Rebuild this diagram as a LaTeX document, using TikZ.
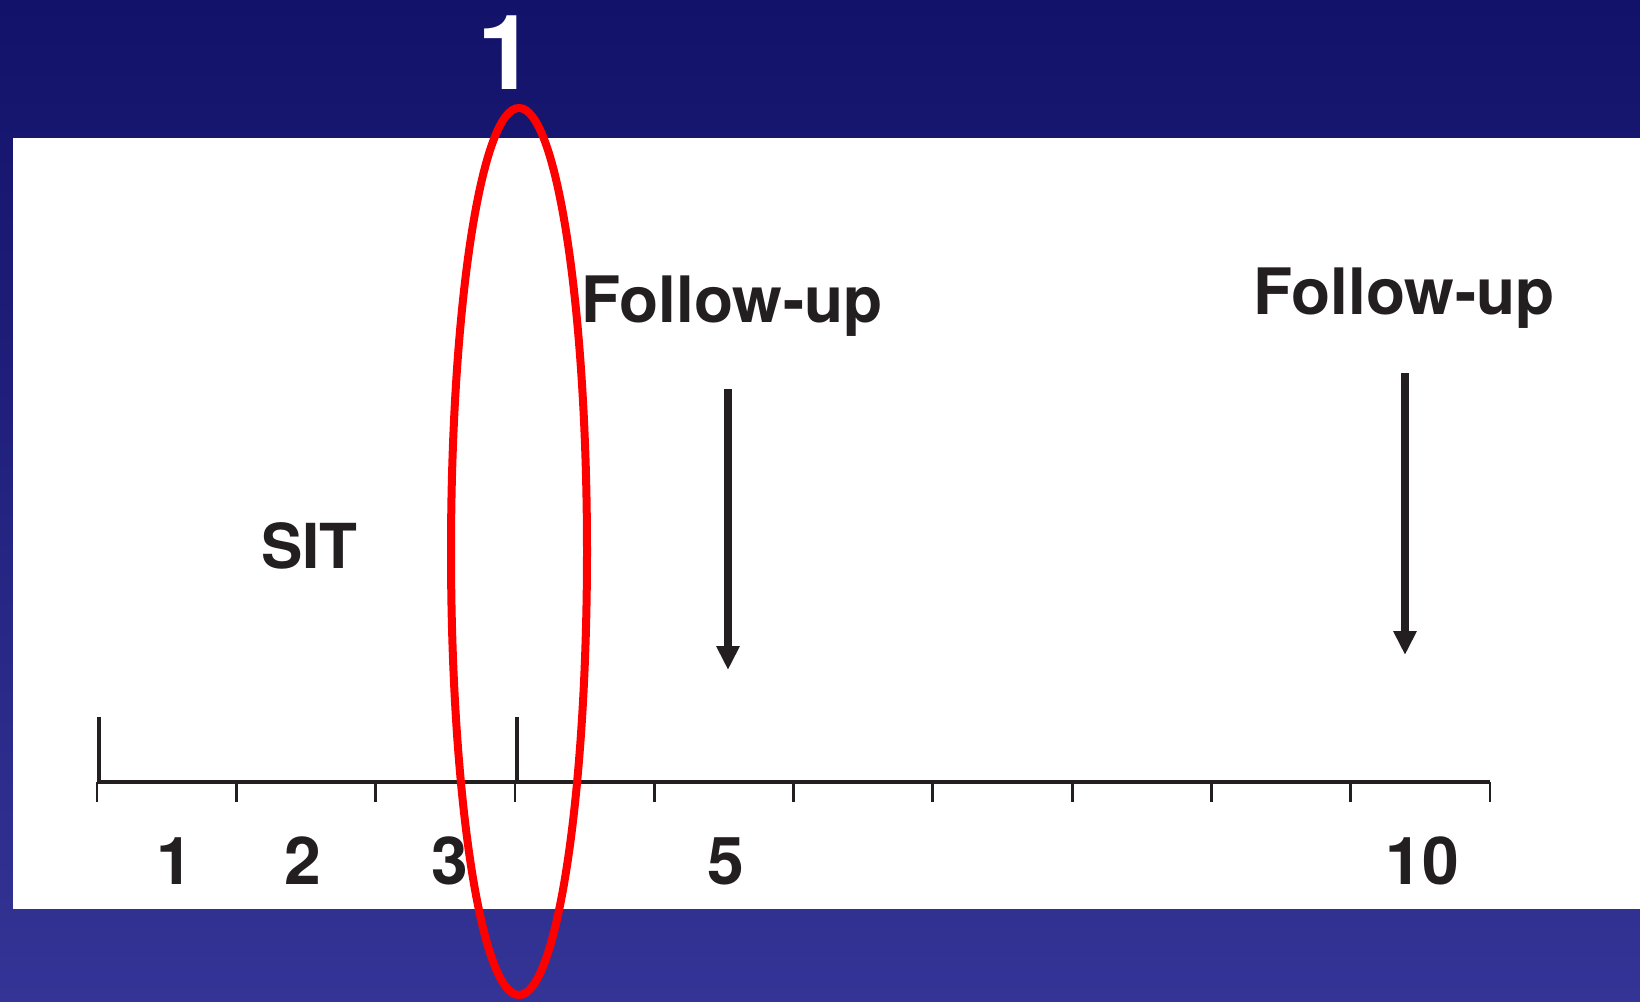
\documentclass[tikz,border=0pt]{standalone}
\usepackage{fontspec}
\setmainfont{TeX Gyre Heros}
\usetikzlibrary{arrows.meta}
\definecolor{navytop}{RGB}{18,18,106}
\definecolor{navybot}{RGB}{52,52,150}
\definecolor{ink}{RGB}{35,31,32}
\definecolor{ovalred}{RGB}{255,0,0}
\tikzset{
  lbl/.style={inner sep=0pt, text=ink, font=\bfseries\fontsize{31}{31}\selectfont},
  fulbl/.style={inner sep=0pt, text=ink, font=\bfseries\fontsize{32}{32}\selectfont},
  num/.style={inner sep=0pt, text=ink, font=\bfseries\fontsize{33}{33}\selectfont, anchor=base},
  axisline/.style={draw=ink, line width=1.7pt},
  tickline/.style={draw=ink, line width=1.4pt},
  tallmark/.style={draw=ink, line width=2.3pt},
  fuarrow/.style={draw=ink, line width=4pt, -{Triangle[length=12pt,width=11pt]}},
}
\begin{document}
\begin{tikzpicture}[x=0.5pt,y=-0.5pt]
\useasboundingbox (0,0) rectangle (1640,1002);
\shade[top color=navytop, bottom color=navybot] (0,0) rectangle (1640,1002);
\fill[white] (12.5,138) rectangle (1640,909);
% axis
\draw[axisline] (97,782) -- (1490,782);
\foreach \k in {0,...,10}{
  \draw[tickline] ({97+\k*139.3},782) -- ({97+\k*139.3},802);
}
\draw[tallmark] (99,717) -- (99,782);
\draw[tallmark] (517,717) -- (517,782);
% labels on axis
\node[num] (n1) at (175,884) {1};
\node[num] (n2) at (303,884) {2};
\node[num] (n3) at (450,884) {3};
\node[num] (n5) at (726,884) {5};
\node[num] (n10) at (1422,884) {10};
% texts
\node[lbl, anchor=base west] (sit) at (261,568) {SIT};
\node[fulbl, anchor=base west] (fu1) at (581,322) {Follow-up};
\node[fulbl, anchor=base west] (fu2) at (1253,314.5) {Follow-up};
% arrows
\coordinate (a1s) at (728,389);
\coordinate (a1e) at (728,670);
\coordinate (a2s) at (1405,373);
\coordinate (a2e) at (1405,655);
\draw[fuarrow] (a1s) -- (a1e);
\draw[fuarrow] (a2s) -- (a2e);
% top number
\node[inner sep=0pt, text=white, font=\bfseries\fontsize{52}{52}\selectfont, anchor=base] (top1) at (506,89) {1};
% red oval
\draw[ovalred, line width=4pt] (519,551.5) ellipse [x radius=68, y radius=443.5];
\end{tikzpicture}
\end{document}
